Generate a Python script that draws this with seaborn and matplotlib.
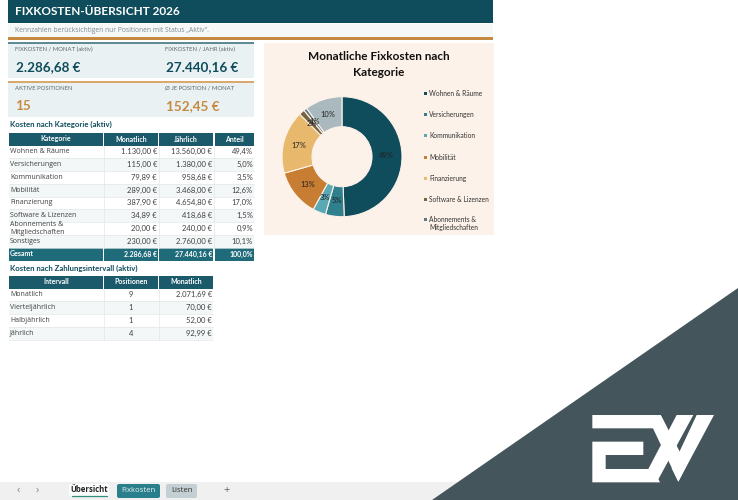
import seaborn as sns
import matplotlib.pyplot as plt
from matplotlib.patches import Rectangle, Polygon, FancyBboxPatch

# Data
kategorien = ["Wohnen & Räume", "Versicherungen", "Kommunikation", "Mobilität", "Finanzierung",
              "Software & Lizenzen", "Abonnements &\nMitgliedschaften", "Sonstiges"]
monatlich = [1130.00, 115.00, 79.89, 289.00, 387.90, 34.89, 20.00, 230.00]
jaehrlich = [13560.00, 1380.00, 958.68, 3468.00, 4654.80, 418.68, 240.00, 2760.00]
anteil = [49.4, 5.0, 3.5, 12.6, 17.0, 1.5, 0.9, 10.1]
gesamt_monat = 2286.68
gesamt_jahr = 27440.16

intervalle = ["Monatlich", "Vierteljährlich", "Halbjährlich", "Jährlich"]
positionen = [9, 1, 1, 4]
intervall_monat = [2071.69, 70.00, 52.00, 92.99]

kpi_labels = ["FIXKOSTEN / MONAT (aktiv)", "FIXKOSTEN / JAHR (aktiv)", "AKTIVE POSITIONEN", "Ø JE POSITION / MONAT"]
kpi_werte = ["2.286,68 €", "27.440,16 €", "15", "152,45 €"]

farben = ["#0f4c5c", "#2f7f8c", "#5aa9b5", "#c77d32", "#e8b86d", "#7a6340", "#5e7a85", "#a9b9bd"]

DARK = "#0f4c5c"
HEAD = "#1b5a6b"
TOTAL = "#1f6b7a"
TXT = "#404040"
LATO = ["Lato", "DejaVu Sans"]


def eur(v):
    s = f"{v:,.2f}".replace(",", "X").replace(".", ",").replace("X", ".")
    return s + " €"


def pct(v):
    return f"{v:.1f}".replace(".", ",") + "%"


sns.set_theme(style="white")
plt.rcParams["font.family"] = ["Open Sans", "DejaVu Sans"]
palette = sns.color_palette(farben)

fig = plt.figure(figsize=(7.38, 5), dpi=100, facecolor="white")
ax = fig.add_axes([0, 0, 1, 1])
ax.set_xlim(0, 738)
ax.set_ylim(500, 0)
ax.axis("off")


def box(x0, y0, x1, y1, color, z=1):
    ax.add_patch(Rectangle((x0, y0), x1 - x0, y1 - y0, fc=color, ec="none", zorder=z))


def txt(x, y, s, size=5.0, color=TXT, ha="left", weight="normal", z=5, family=None):
    kw = {"family": family} if family else {}
    return ax.text(x, y, s, fontsize=size, color=color, ha=ha, va="center", weight=weight, zorder=z, **kw)


# Title band
box(8, 0, 493, 23, DARK)
txt(15, 11.5, "FIXKOSTEN-ÜBERSICHT 2026", size=8.5, color="white", weight="bold", family=LATO)
box(8, 24, 493, 37, "#f6f8f8")
txt(15, 30.5, "Kennzahlen berücksichtigen nur Positionen mit Status „Aktiv\".", size=4.9, color="#7d8a8e")
box(8, 37, 493, 39.5, "#c58a3f")

# KPI blocks
box(8, 42, 254, 43.8, "#5f8a94")
box(8, 44, 254, 78, "#eaf1f2")
box(8, 81, 254, 82.8, "#d9a86c")
box(8, 83, 254, 117, "#eaf1f2")
for i, (lab, wert) in enumerate(zip(kpi_labels, kpi_werte)):
    x = 15 if i % 2 == 0 else 165
    y = 49.5 if i < 2 else 88.5
    txt(x, y, lab, size=4.3, color="#5c6b70", family=LATO)
    txt(x + 0.5, y + 18, wert, size=9.7, color=DARK if i < 2 else "#c58a3f", weight="bold", family=LATO)

# Table 1
cols = [(9, 103), (104, 158), (159, 213), (215, 254)]
txt(10, 124, "Kosten nach Kategorie (aktiv)", size=5.6, color=DARK, weight="bold", family=LATO)
for (x0, x1), h in zip(cols, ["Kategorie", "Monatlich", "Jährlich", "Anteil"]):
    box(x0, 133, x1, 145.5, HEAD)
    txt((x0 + x1) / 2, 139, h, size=5.0, color="white", ha="center", weight="bold", family=LATO)

row_h = 12.75
for i, kat in enumerate(kategorien):
    y0 = 145.5 + i * row_h
    yc = y0 + row_h / 2
    box(9, y0, 254, y0 + row_h, "#f4f7f7" if i % 2 else "white")
    ax.plot([9, 254], [y0 + row_h, y0 + row_h], color="#e2e7e8", lw=0.5, zorder=2)
    if "\n" in kat:
        clip = Rectangle((9, y0), 94, row_h, transform=ax.transData)
        t1, t2 = kat.split("\n")
        for s, y in ((t1, yc - 4.2), (t2, yc + 4.5)):
            t = txt(10, y, s)
            t.set_clip_path(clip)
    else:
        txt(10, yc, kat)
    txt(157, yc, eur(monatlich[i]), ha="right", size=5.5, family=LATO)
    txt(212, yc, eur(jaehrlich[i]), ha="right", size=5.5, family=LATO)
    txt(253, yc, pct(anteil[i]), ha="right", size=5.5, family=LATO)
for x in (103.5, 158.5, 214):
    ax.plot([x, x], [145.5, 247.5], color="#e2e7e8", lw=0.5, zorder=2)

for (x0, x1) in cols:
    box(x0, 248, x1, 260.5, TOTAL)
txt(10, 254, "Gesamt", size=5.0, color="white", weight="bold", family=LATO)
txt(157, 254, eur(gesamt_monat), size=5.0, color="white", ha="right", weight="bold", family=LATO)
txt(212, 254, eur(gesamt_jahr), size=5.0, color="white", ha="right", weight="bold", family=LATO)
txt(253, 254, "100,0%", size=5.0, color="white", ha="right", weight="bold", family=LATO)

# Table 2
txt(10, 268, "Kosten nach Zahlungsintervall (aktiv)", size=5.6, color=DARK, weight="bold", family=LATO)
for (x0, x1), h in zip(cols[:3], ["Intervall", "Positionen", "Monatlich"]):
    box(x0, 275.5, x1, 288.5, HEAD)
    txt((x0 + x1) / 2, 282, h, size=5.0, color="white", ha="center", weight="bold", family=LATO)
for i, name in enumerate(intervalle):
    y0 = 288.5 + i * row_h
    yc = y0 + row_h / 2
    box(9, y0, 213, y0 + row_h, "#f4f7f7" if i % 2 else "white")
    ax.plot([9, 213], [y0 + row_h, y0 + row_h], color="#e2e7e8", lw=0.5, zorder=2)
    txt(10, yc, name)
    txt(131, yc, str(positionen[i]), ha="center", size=5.5, family=LATO)
    txt(212, yc, eur(intervall_monat[i]), ha="right", size=5.5, family=LATO)
for x in (103.5, 158.5):
    ax.plot([x, x], [288.5, 339.5], color="#e2e7e8", lw=0.5, zorder=2)

# Chart panel
box(264, 43, 494, 235, "#fdf2e9")
txt(379, 56, "Monatliche Fixkosten nach", size=8.5, color="#111111", ha="center", weight="bold", family=LATO)
txt(379, 72, "Kategorie", size=8.5, color="#111111", ha="center", weight="bold", family=LATO)

cx, cy, r = 342, 156.7, 60
pie_ax = fig.add_axes([(cx - r) / 738, 1 - (cy + r) / 500, 2 * r / 738, 2 * r / 500])
pie_ax.set_zorder(3)
pie_ax.pie(monatlich, colors=palette, startangle=90, counterclock=False, radius=1,
           autopct="%.0f%%", pctdistance=0.74,
           wedgeprops=dict(width=0.5, edgecolor="#fdf2e9", linewidth=0.8),
           textprops=dict(fontsize=5.4, color="#222222", family=LATO))
pie_ax.set_xlim(-1, 1)
pie_ax.set_ylim(-1, 1)
pie_ax.patch.set_visible(False)

leg_y = [93, 114.7, 135.5, 157, 178, 199, 219]
for kat, farbe, y in zip(kategorien, palette, leg_y):
    box(423.5, y - 1.5, 426.5, y + 1.5, farbe)
    parts = kat.split("\n")
    for j, s in enumerate(parts):
        txt(429, y + j * 8.8, s, size=4.8, color="#333333", family=LATO)

# Sheet tab bar
box(0, 482, 738, 500, "#f0f0f0")
txt(18, 490.5, "‹", size=8, color="#888888", ha="center")
txt(37, 490.5, "›", size=8, color="#888888", ha="center")
ax.add_patch(FancyBboxPatch((69, 484), 40, 12, boxstyle="round,pad=0,rounding_size=2", fc="#fbfdfd", ec="none", zorder=2))
txt(89, 489.5, "Übersicht", size=5.6, color="#222222", ha="center", weight="bold")
ax.plot([72, 107], [495.5, 495.5], color="#2f8f7c", lw=0.9, zorder=3)
ax.add_patch(FancyBboxPatch((117, 484), 43, 14, boxstyle="round,pad=0,rounding_size=2", fc="#2a7f8c", ec="none", zorder=2))
txt(138.5, 491, "Fixkosten", size=5.6, color="#e8f3f4", ha="center")
ax.add_patch(FancyBboxPatch((166, 484), 31, 14, boxstyle="round,pad=0,rounding_size=2", fc="#c3cfd2", ec="none", zorder=2))
txt(181.5, 491, "Listen", size=5.6, color="#333333", ha="center")
txt(227, 490, "+", size=8, color="#666666", ha="center")

# Corner watermark
ax.add_patch(Polygon([(432, 500), (738, 288), (738, 500)], fc="#44555c", ec="none", zorder=8))


def zoom_xy(pts):
    return [(430 + x / 3, 280 + y / 3) for x, y in pts]


logo = [
    [(487, 405), (692, 405), (712, 445), (487, 445)],
    [(650, 405), (692, 405), (770, 555), (745, 605)],
    [(740, 405), (790, 405), (680, 607), (655, 567)],
    [(800, 405), (852, 405), (745, 605), (725, 565)],
    [(487, 485), (640, 485), (640, 525), (527, 525), (527, 567), (670, 567), (690, 607), (487, 607)],
]
for pts in logo:
    ax.add_patch(Polygon(zoom_xy(pts), fc="white", ec="none", zorder=9))

fig.savefig("out.png", dpi=100, facecolor="white")
